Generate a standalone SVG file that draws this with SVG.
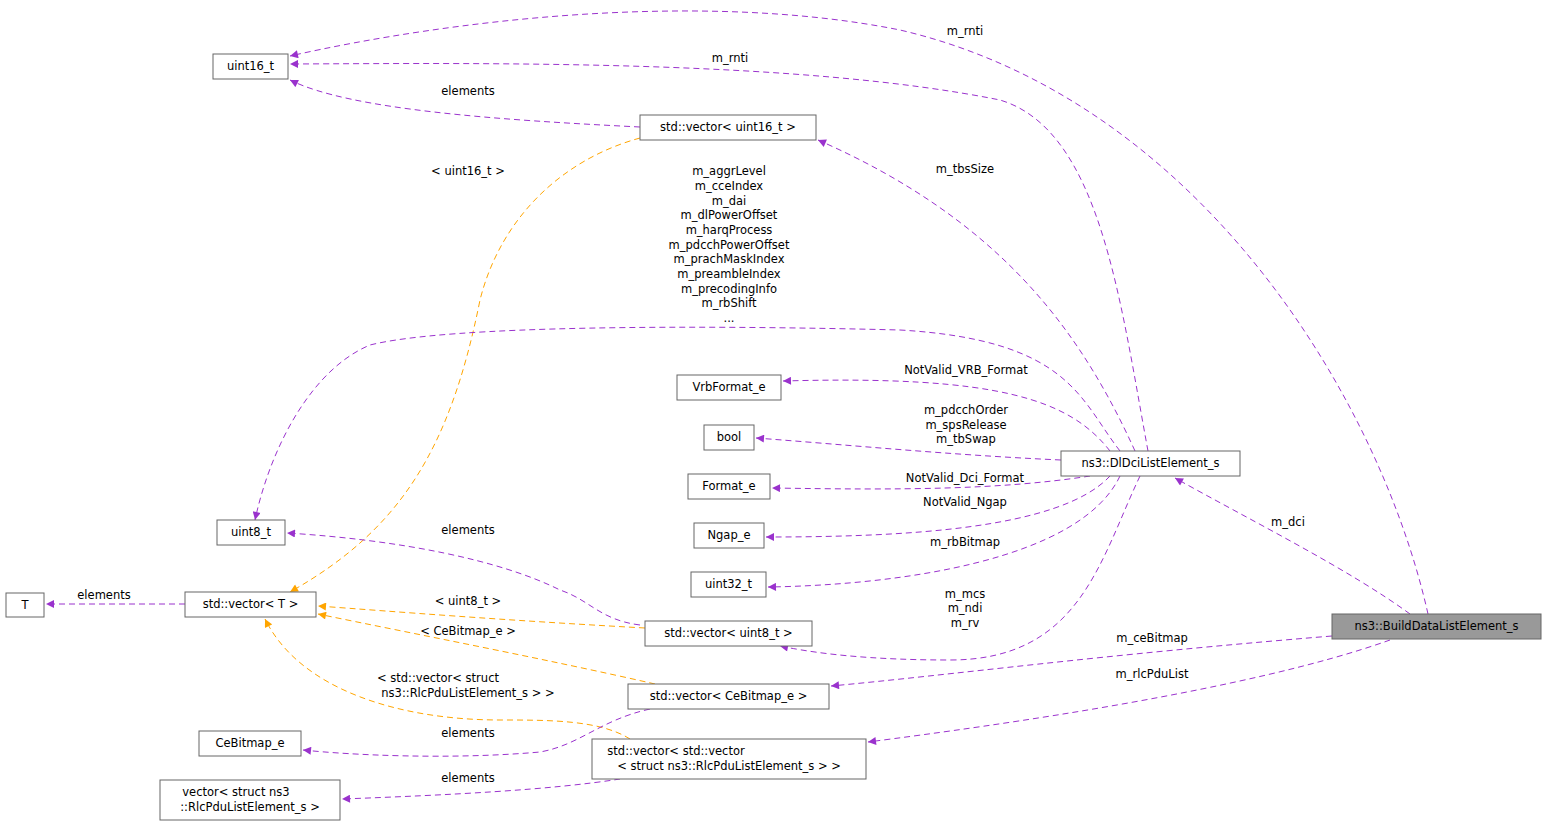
<svg xmlns="http://www.w3.org/2000/svg" width="1547" height="826" viewBox="0 0 1547 826">
<style>
text{font-family:"DejaVu Sans",sans-serif;font-size:11.5px;fill:#000}
.n rect{fill:#fff;stroke:#666;stroke-width:1}
.n text{text-anchor:middle}
.l{text-anchor:middle}
.p{fill:none;stroke:#9a32cd;stroke-dasharray:6,4;stroke-width:1}
.o{fill:none;stroke:#ffa500;stroke-dasharray:6,4;stroke-width:1}
.p{marker-end:url(#mp)}
.o{marker-end:url(#mo)}
</style>
<defs>
<marker id="mp" viewBox="0 0 10 10" refX="10" refY="5" markerWidth="10" markerHeight="8" markerUnits="userSpaceOnUse" orient="auto"><path d="M0,0L10,5L0,10z" fill="#9a32cd"/></marker>
<marker id="mo" viewBox="0 0 10 10" refX="10" refY="5" markerWidth="10" markerHeight="8" markerUnits="userSpaceOnUse" orient="auto"><path d="M0,0L10,5L0,10z" fill="#ffa500"/></marker>
</defs>
<rect width="1547" height="826" fill="#fff"/>
<g id="connectors">
<path class="p" d="M1428,614 C1380,400 1200,100 900,30 C700,-10 450,20 290,56"/>
<text class="l" x="965" y="35">m_rnti</text>
<path class="p" d="M1148,451 C1120,300 1100,130 1000,100 C800,60 500,63 290,64"/>
<text class="l" x="730" y="62">m_rnti</text>
<path class="p" d="M640,127 C500,120 350,110 290,80"/>
<text class="l" x="468" y="95">elements</text>
<path class="o" d="M640,138 C560,160 500,220 480,300 C450,450 400,530 290,592"/>
<text class="l" x="468" y="175">&lt; uint16_t &gt;</text>
<path class="p" d="M1135,451 C1080,330 1000,220 818,140"/>
<text class="l" x="965" y="173">m_tbsSize</text>
<path class="p" d="M1120,451 C1080,400 1070,340 900,330 C700,325 450,325 370,345 C310,370 270,450 255,520"/>
<text class="l" x="729" y="175">m_aggrLevel</text>
<text class="l" x="729" y="190">m_cceIndex</text>
<text class="l" x="729" y="205">m_dai</text>
<text class="l" x="729" y="219">m_dlPowerOffset</text>
<text class="l" x="729" y="234">m_harqProcess</text>
<text class="l" x="729" y="249">m_pdcchPowerOffset</text>
<text class="l" x="729" y="263">m_prachMaskIndex</text>
<text class="l" x="729" y="278">m_preambleIndex</text>
<text class="l" x="729" y="293">m_precodingInfo</text>
<text class="l" x="729" y="307">m_rbShift</text>
<text class="l" x="729" y="322">...</text>
<path class="p" d="M1110,451 C1070,400 1000,375 783,381"/>
<text class="l" x="966" y="374">NotValid_VRB_Format</text>
<path class="p" d="M1061,460 C950,455 850,445 756,438"/>
<text class="l" x="966" y="414">m_pdcchOrder</text>
<text class="l" x="966" y="429">m_spsRelease</text>
<text class="l" x="966" y="443">m_tbSwap</text>
<path class="p" d="M1090,476 C1000,490 900,490 772,488"/>
<text class="l" x="965" y="482">NotValid_Dci_Format</text>
<path class="p" d="M1110,476 C1060,530 900,537 766,537"/>
<text class="l" x="965" y="506">NotValid_Ngap</text>
<path class="p" d="M1120,476 C1080,560 900,585 768,587"/>
<text class="l" x="965" y="546">m_rbBitmap</text>
<path class="p" d="M1140,476 C1100,560 1080,660 950,660 C850,660 800,650 780,646"/>
<text class="l" x="965" y="598">m_mcs</text>
<text class="l" x="965" y="612">m_ndi</text>
<text class="l" x="965" y="627">m_rv</text>
<path class="p" d="M1410,614 C1350,570 1250,520 1175,478"/>
<text class="l" x="1288" y="526">m_dci</text>
<path class="p" d="M1332,636 C1100,655 950,675 831,686"/>
<text class="l" x="1152" y="642">m_ceBitmap</text>
<path class="p" d="M1390,640 C1250,690 1000,725 868,742"/>
<text class="l" x="1152" y="678">m_rlcPduList</text>
<path class="p" d="M640,625 C600,620 590,600 560,590 C500,560 400,540 287,533"/>
<text class="l" x="468" y="534">elements</text>
<path class="o" d="M645,628 C500,620 400,612 318,606"/>
<text class="l" x="468" y="605">&lt; uint8_t &gt;</text>
<path class="o" d="M655,684 C550,660 420,635 318,614"/>
<text class="l" x="468" y="635">&lt; CeBitmap_e &gt;</text>
<path class="o" d="M630,739 C600,720 550,720 500,720 C400,720 300,690 265,619"/>
<text class="l" x="438" y="682">&lt; std::vector&lt; struct</text>
<text class="l" x="468" y="697">ns3::RlcPduListElement_s &gt; &gt;</text>
<path class="p" d="M650,709 C600,720 580,745 540,752 C450,760 350,755 303,750"/>
<text class="l" x="468" y="737">elements</text>
<path class="p" d="M620,779 C550,790 450,795 342,799"/>
<text class="l" x="468" y="782">elements</text>
<path class="p" d="M185,604 L46,604"/>
<text class="l" x="104" y="599">elements</text>
</g>
<g id="uint16_t" class="n"><rect x="213" y="54" width="75" height="25"/><text x="250.5" y="70">uint16_t</text></g>
<g id="vec_uint16" class="n"><rect x="640" y="115" width="176" height="25"/><text x="728" y="131">std::vector&lt; uint16_t &gt;</text></g>
<g id="uint8_t" class="n"><rect x="217" y="520" width="68" height="25"/><text x="251" y="536">uint8_t</text></g>
<g id="T" class="n"><rect x="6" y="593" width="38" height="24"/><text x="25" y="609">T</text></g>
<g id="vec_T" class="n"><rect x="185" y="592" width="131" height="25"/><text x="250.5" y="608">std::vector&lt; T &gt;</text></g>
<g id="VrbFormat_e" class="n"><rect x="677" y="375" width="104" height="25"/><text x="729" y="391">VrbFormat_e</text></g>
<g id="bool" class="n"><rect x="704" y="425" width="50" height="25"/><text x="729" y="441">bool</text></g>
<g id="Format_e" class="n"><rect x="688" y="474" width="82" height="25"/><text x="729" y="490">Format_e</text></g>
<g id="Ngap_e" class="n"><rect x="694" y="523" width="70" height="25"/><text x="729" y="539">Ngap_e</text></g>
<g id="uint32_t" class="n"><rect x="691" y="572" width="75" height="25"/><text x="728.5" y="588">uint32_t</text></g>
<g id="vec_uint8" class="n"><rect x="645" y="621" width="167" height="25"/><text x="728.5" y="637">std::vector&lt; uint8_t &gt;</text></g>
<g id="vec_CeBitmap" class="n"><rect x="628" y="684" width="201" height="25"/><text x="728.5" y="700">std::vector&lt; CeBitmap_e &gt;</text></g>
<g id="CeBitmap_e" class="n"><rect x="199" y="731" width="102" height="25"/><text x="250" y="747">CeBitmap_e</text></g>
<g id="vec_vec_rlc" class="n"><rect x="592" y="739" width="274" height="40"/><text x="676" y="755">std::vector&lt; std::vector</text><text x="729" y="770">&lt; struct ns3::RlcPduListElement_s &gt; &gt;</text></g>
<g id="vector_rlc" class="n"><rect x="160" y="780" width="180" height="40"/><text x="236" y="796">vector&lt; struct ns3</text><text x="250" y="811">::RlcPduListElement_s &gt;</text></g>
<g id="DlDci" class="n"><rect x="1061" y="451" width="179" height="25"/><text x="1150.5" y="467">ns3::DlDciListElement_s</text></g>
<g id="BuildData" class="n"><rect x="1332" y="614" width="209" height="25" style="fill:#999"/><text x="1436.5" y="630">ns3::BuildDataListElement_s</text></g>
</svg>
